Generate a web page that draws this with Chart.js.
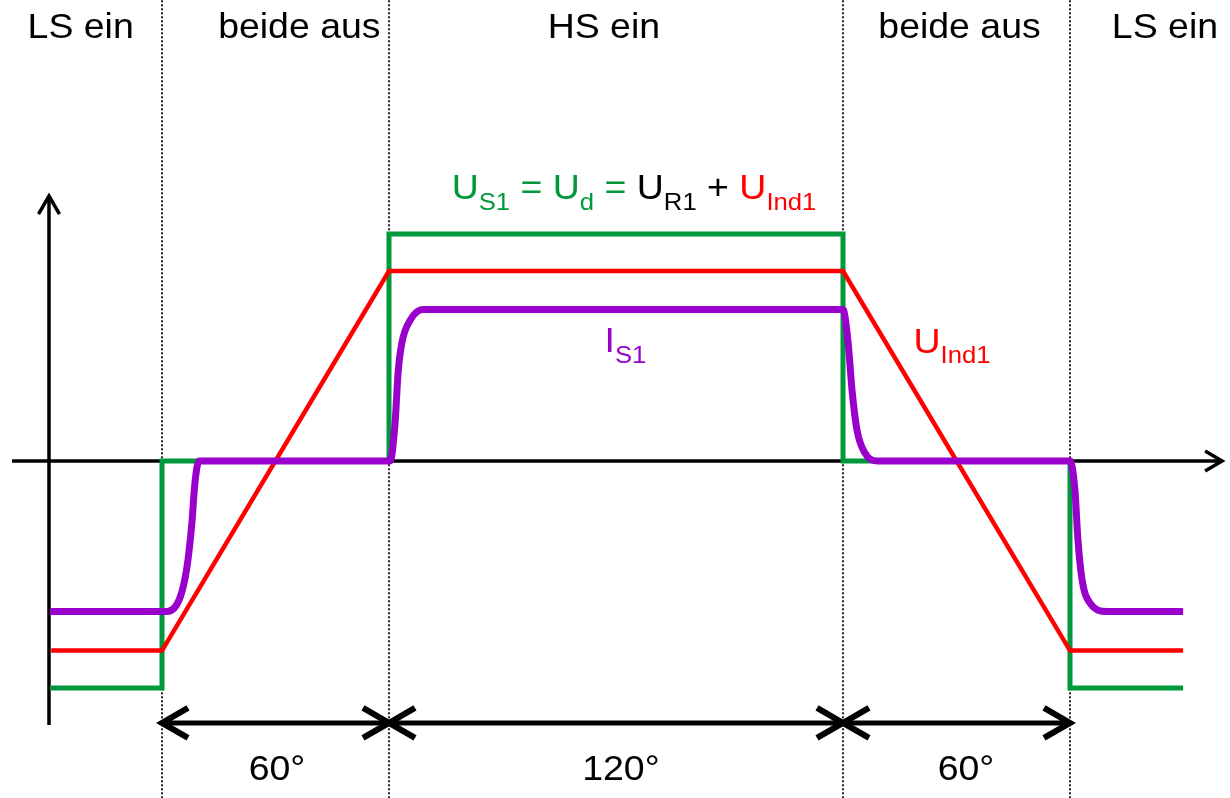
<!DOCTYPE html>
<html>
<head>
<meta charset="utf-8">
<script src="https://cdn.jsdelivr.net/npm/chart.js@4"></script>
<style>
  html, body { margin: 0; padding: 0; background: #fff; }
  #wrap { width: 1230px; height: 798px; }
</style>
</head>
<body>
<div id="wrap"><canvas id="chart" width="1230" height="798"></canvas></div>
<script>
// ---------------- Data (x in degrees, y relative to Ud) ----------------
const phaseBounds = [0, 60, 180, 240];

const greenX = [-29.6, 0, 0, 60, 60, 180, 180, 240, 240, 269.9];
const greenY = [-1, -1, 0, 0, 1, 1, 0, 0, -1, -1];

const redX = [-29.3, 0, 60, 180, 240, 269.9];
const redY = [-0.835, -0.835, 0.837, 0.837, -0.835, -0.835];

const purpleX = [-29.6, 1.3, 4.8, 6.6, 7.9, 8.7, 9.8,
                 60.3, 61.6, 62.4, 63.4, 65.6, 69,
                 180, 181.3, 182.4, 183.7, 185.8, 189,
                 240, 241.3, 242.1, 243.2, 245.3, 249.8, 269.9];
const purpleY = [-0.663, -0.663, -0.6, -0.467, -0.273, -0.097, 0,
                 0, 0.167, 0.388, 0.52, 0.62, 0.667,
                 0.667, 0.53, 0.31, 0.136, 0.035, 0,
                 0, -0.128, -0.348, -0.524, -0.626, -0.663, -0.663];

const phaseLabels = ["LS ein", "beide aus", "HS ein", "beide aus", "LS ein"];
const phaseLabelX = [-21.5, 36.3, 116.8, 210.8, 265.1];

const spanFrom = [0, 60, 180];
const spanTo = [60, 180, 240];
const spanLabels = ["60°", "120°", "60°"];
const spanLabelX = [30.4, 121.3, 212.5];

// ---------------- Colours ----------------
const GREEN = "#00983a";
const RED = "#ff0000";
const PURPLE = "#9900cc";
const FONT = '"Liberation Sans", Arial, sans-serif';
const STRETCH = 1.07;   // text in the original is a little wider than Arial

const toPts = (xs, ys) => xs.map((x, i) => ({ x: x, y: ys[i] }));

// dotted phase separators
const dotted = phaseBounds.map(b => ({
    data: [{ x: b, y: 2.1 }, { x: b, y: -1.6 }],
    borderColor: "#222",
    borderWidth: 2,
    borderDash: [2, 2],
    pointRadius: 0,
    order: 10
}));

// ---------------- Helpers ----------------
function arrowHead(ctx, tx, ty, dx, dy, len, half) {
    // dx,dy: unit direction pointing towards tip
    const bx = tx - dx * len, by = ty - dy * len;
    ctx.beginPath();
    ctx.moveTo(bx - dy * half, by + dx * half);
    ctx.lineTo(tx, ty);
    ctx.lineTo(bx + dy * half, by - dx * half);
    ctx.stroke();
}

function plainText(ctx, t, cx, base, size) {
    ctx.save();
    ctx.font = size + "px " + FONT;
    ctx.textAlign = "center";
    ctx.textBaseline = "alphabetic";
    ctx.translate(cx, base);
    ctx.scale(STRETCH, 1);
    ctx.fillText(t, 0, 0);
    ctx.restore();
}

function richText(ctx, parts, cx, base, size) {
    const subSize = Math.round(size * 0.68);
    let total = 0;
    parts.forEach(p => {
        ctx.font = (p.sub ? subSize : size) + "px " + FONT;
        p.w = ctx.measureText(p.t).width;
        total += p.w;
    });
    ctx.save();
    ctx.translate(cx, base);
    ctx.scale(STRETCH, 1);
    let x = -total / 2;
    ctx.textAlign = "left";
    ctx.textBaseline = "alphabetic";
    parts.forEach(p => {
        ctx.font = (p.sub ? subSize : size) + "px " + FONT;
        ctx.fillStyle = p.c;
        ctx.fillText(p.t, x, p.sub ? size * 0.3 : 0);
        x += p.w;
    });
    ctx.restore();
}

// ---------------- Decorations plugin ----------------
const deco = {
    id: "deco",
    beforeDatasetsDraw(chart) {
        const { ctx, scales: { x, y } } = chart;
        ctx.save();
        ctx.strokeStyle = "#000";
        ctx.lineWidth = 3.5;
        // y axis
        const ax = x.getPixelForValue(-29.87);
        ctx.beginPath();
        ctx.moveTo(ax, y.getPixelForValue(-1.163));
        ctx.lineTo(ax, y.getPixelForValue(1.167));
        ctx.stroke();
        arrowHead(ctx, ax, y.getPixelForValue(1.167), 0, -1, 18, 10.5);
        // x axis
        const ay = y.getPixelForValue(0);
        ctx.beginPath();
        ctx.moveTo(x.getPixelForValue(-39.65), ay);
        ctx.lineTo(x.getPixelForValue(280.2), ay);
        ctx.stroke();
        arrowHead(ctx, x.getPixelForValue(280.2), ay, 1, 0, 17, 10);
        ctx.restore();
    },
    afterDatasetsDraw(chart) {
        const { ctx, scales: { x, y } } = chart;
        ctx.save();
        // dimension arrows
        ctx.strokeStyle = "#000";
        ctx.lineCap = "butt";
        ctx.lineJoin = "miter";
        const dy = y.getPixelForValue(-1.154);
        spanFrom.forEach((f, i) => {
            const x1 = x.getPixelForValue(f), x2 = x.getPixelForValue(spanTo[i]);
            ctx.lineWidth = 5;
            ctx.beginPath();
            ctx.moveTo(x1 + 2, dy);
            ctx.lineTo(x2 - 2, dy);
            ctx.stroke();
            ctx.lineWidth = 6;
            arrowHead(ctx, x1, dy, -1, 0, 26, 15);
            arrowHead(ctx, x2, dy, 1, 0, 26, 15);
        });
        // span labels + phase labels
        ctx.fillStyle = "#000";
        spanLabels.forEach((t, i) => {
            plainText(ctx, t, x.getPixelForValue(spanLabelX[i]), y.getPixelForValue(-1.405), 35);
        });
        phaseLabels.forEach((t, i) => {
            plainText(ctx, t, x.getPixelForValue(phaseLabelX[i]), y.getPixelForValue(1.863), 35);
        });
        // formula and curve names
        richText(ctx, [
            { t: "U", c: GREEN }, { t: "S1", c: GREEN, sub: true },
            { t: " = U", c: GREEN }, { t: "d", c: GREEN, sub: true },
            { t: " = ", c: GREEN },
            { t: "U", c: "#000" }, { t: "R1", c: "#000", sub: true },
            { t: " + ", c: "#000" },
            { t: "U", c: RED }, { t: "Ind1", c: RED, sub: true }
        ], x.getPixelForValue(124.76), y.getPixelForValue(1.154), 35);
        richText(ctx, [{ t: "I", c: PURPLE }, { t: "S1", c: PURPLE, sub: true }],
            x.getPixelForValue(122.5), y.getPixelForValue(0.48), 35);
        richText(ctx, [{ t: "U", c: RED }, { t: "Ind1", c: RED, sub: true }],
            x.getPixelForValue(208.8), y.getPixelForValue(0.476), 35);
        ctx.restore();
    }
};

// ---------------- Chart ----------------
new Chart(document.getElementById("chart").getContext("2d"), {
    type: "line",
    data: {
        datasets: [
            ...dotted,
            { data: toPts(greenX, greenY), borderColor: GREEN, borderWidth: 5, pointRadius: 0,
              borderJoinStyle: "miter", borderCapStyle: "butt", tension: 0, order: 3 },
            { data: toPts(redX, redY), borderColor: RED, borderWidth: 4.5, pointRadius: 0,
              borderJoinStyle: "miter", borderCapStyle: "butt", tension: 0, order: 2 },
            { data: toPts(purpleX, purpleY), borderColor: PURPLE, borderWidth: 7, pointRadius: 0,
              cubicInterpolationMode: "monotone", borderCapStyle: "butt", order: 1 }
        ]
    },
    options: {
        responsive: false,
        animation: false,
        layout: { padding: 0 },
        plugins: { legend: { display: false }, tooltip: { enabled: false } },
        scales: {
            x: { type: "linear", min: -42.82, max: 282.29, display: false },
            y: { type: "linear", min: -1.4846, max: 2.0308, display: false }
        }
    },
    plugins: [deco]
});
</script>
</body>
</html>
